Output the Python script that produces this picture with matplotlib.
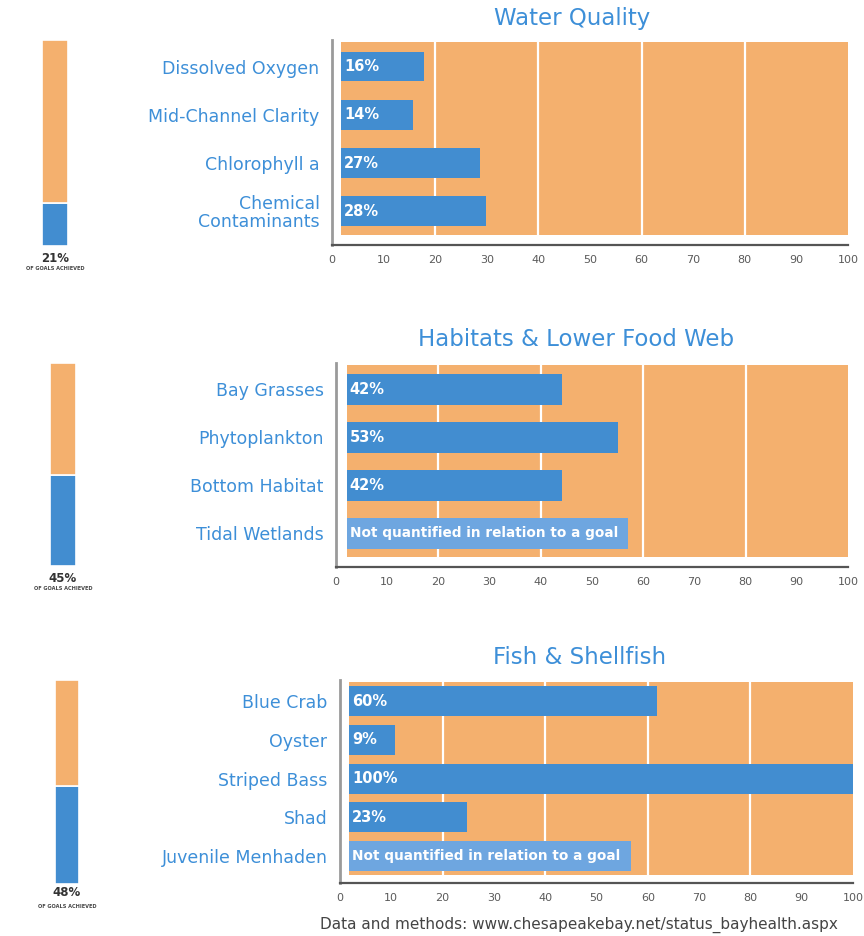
import matplotlib
matplotlib.use("Agg")
import matplotlib.pyplot as plt

# ---------------- data ----------------
wq_title = "Water Quality"
wq_categories = ["Dissolved Oxygen", "Mid-Channel Clarity", "Chlorophyll a", "Chemical\nContaminants"]
wq_values = [16, 14, 27, 28]
wq_overall = 21

hab_title = "Habitats & Lower Food Web"
hab_categories = ["Bay Grasses", "Phytoplankton", "Bottom Habitat", "Tidal Wetlands"]
hab_values = [42, 53, 42, None]
hab_overall = 45

fish_title = "Fish & Shellfish"
fish_categories = ["Blue Crab", "Oyster", "Striped Bass", "Shad", "Juvenile Menhaden"]
fish_values = [60, 9, 100, 23, None]
fish_overall = 48

nq_text = "Not quantified in relation to a goal"
nq_width = 55
x_ticks = [0, 10, 20, 30, 40, 50, 60, 70, 80, 90, 100]
grid_x = [20, 40, 60, 80]
footer = "Data and methods: www.chesapeakebay.net/status_bayhealth.aspx"

# ---------------- style ----------------
ORANGE = "#F4B06E"
BLUE = "#428DD0"
LIGHT_BLUE = "#6EA6E0"
TEXT_BLUE = "#3D8FD8"
W, H = 864, 936

fig = plt.figure(figsize=(W / 100, H / 100), dpi=100)
fig.patch.set_facecolor("white")


def fx(px):
    return px / W


def fy(py):
    return 1 - py / H


panels = [
    dict(title=wq_title, cats=wq_categories, vals=wq_values, overall=wq_overall,
         box=(332, 848, 40, 245), start=1.75, bar_h=0.62,
         mini=(42, 68, 40, 246), title_xy=(572, 18), pct_y=(258, 269)),
    dict(title=hab_title, cats=hab_categories, vals=hab_values, overall=hab_overall,
         box=(336, 848, 363, 567), start=2.1, bar_h=0.63,
         mini=(50, 76, 363, 566), title_xy=(576, 340), pct_y=(578, 589)),
    dict(title=fish_title, cats=fish_categories, vals=fish_values, overall=fish_overall,
         box=(340, 853, 680, 883), start=1.75, bar_h=0.78,
         mini=(55, 79, 680, 884), title_xy=(580, 657), pct_y=(893, 907)),
]

for p in panels:
    l, r, t, b = p["box"]
    ax = fig.add_axes([fx(l), fy(b), fx(r - l), (b - t) / H])
    n = len(p["cats"])
    ys = list(range(n))
    ax.set_xlim(0, 100)
    ax.set_ylim(n - 0.3, -0.55)
    # orange background
    ax.barh((n - 1) / 2, 100 - p["start"], height=n + 0.0, left=p["start"],
            color=ORANGE, zorder=0)
    ax.vlines(grid_x, -0.55, n - 0.45, colors="white", linewidth=1.6, zorder=1)
    for y, v in zip(ys, p["vals"]):
        if v is None:
            ax.barh(y, nq_width, height=p["bar_h"], left=p["start"], color=LIGHT_BLUE, zorder=2)
            ax.text(p["start"] + 0.6, y, nq_text, color="white", fontsize=9.8,
                    fontweight="bold", va="center", ha="left", zorder=3)
        else:
            ax.barh(y, v, height=p["bar_h"], left=p["start"], color=BLUE, zorder=2)
            ax.text(p["start"] + 0.6, y, f"{v}%", color="white", fontsize=10.5,
                    fontweight="bold", va="center", ha="left", zorder=3)
    ax.set_yticks(ys)
    ax.set_yticklabels(p["cats"], color=TEXT_BLUE, fontsize=12.5, linespacing=0.95)
    ax.set_xticks(x_ticks)
    ax.set_xticklabels([str(x) for x in x_ticks], color="#5a5a5a", fontsize=8)
    ax.tick_params(axis="both", length=0)
    ax.tick_params(axis="y", pad=9)
    ax.tick_params(axis="x", pad=7)
    ax.set_facecolor("white")
    for s in ["top", "right"]:
        ax.spines[s].set_visible(False)
    ax.spines["left"].set_color("#9a9a9a")
    ax.spines["left"].set_linewidth(2)
    ax.spines["bottom"].set_color("#555555")
    ax.spines["bottom"].set_linewidth(1.6)
    fig.text(fx(p["title_xy"][0]), fy(p["title_xy"][1]), p["title"], color=TEXT_BLUE,
             fontsize=16.5, ha="center", va="center")

    # mini overall bar
    ml, mr, mt, mb = p["mini"]
    mx = fig.add_axes([fx(ml), fy(mb), fx(mr - ml), (mb - mt) / H])
    mx.bar(0, p["overall"], width=1, color=BLUE, edgecolor="white", linewidth=1.2)
    mx.bar(0, 100 - p["overall"], width=1, bottom=p["overall"], color=ORANGE,
           edgecolor="white", linewidth=1.2)
    mx.set_xlim(-0.5, 0.5)
    mx.set_ylim(0, 100)
    mx.axis("off")
    cx = fx((ml + mr) / 2)
    fig.text(cx, fy(p["pct_y"][0]), f"{p['overall']}%", fontsize=8.5, fontweight="bold",
             color="#333333", ha="center", va="center")
    fig.text(cx, fy(p["pct_y"][1]), "OF GOALS ACHIEVED", fontsize=3.6, fontweight="bold",
             color="#444444", ha="center", va="center")

fig.text(fx(320), fy(925), footer, fontsize=11.0, color="#444444", ha="left", va="center")

fig.savefig("out.png", dpi=100, facecolor="white")
